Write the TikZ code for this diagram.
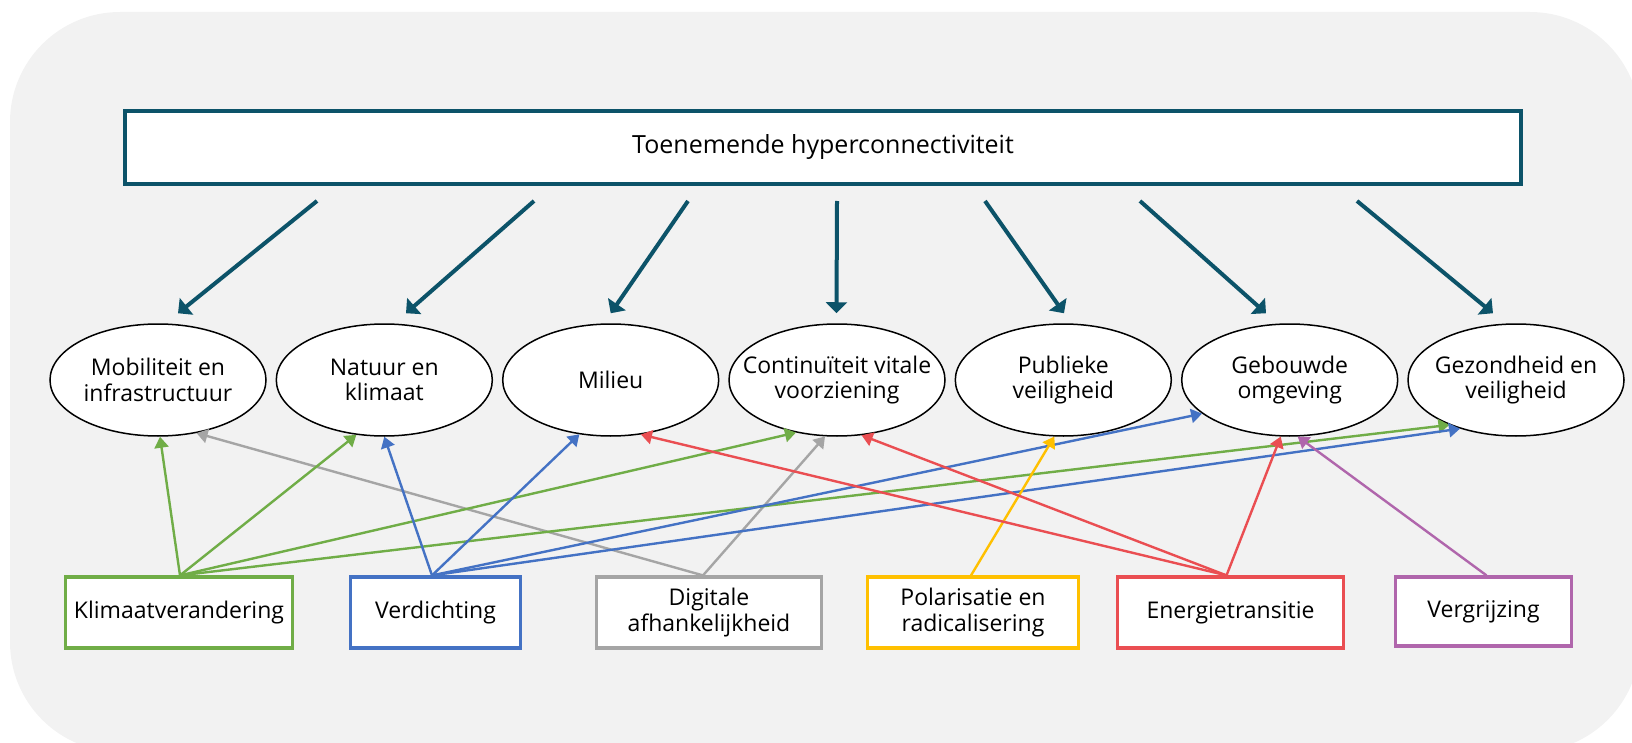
\documentclass[tikz,border=0pt]{standalone}
\usepackage{fontspec}
\setmainfont{Open Sans}
\usetikzlibrary{arrows.meta,shapes.geometric}
\definecolor{bgc}{HTML}{F2F2F2}
\definecolor{tealc}{RGB}{12,83,105}
\definecolor{greenc}{HTML}{70AD47}
\definecolor{bluec}{HTML}{4472C4}
\definecolor{grayc}{HTML}{A5A5A5}
\definecolor{yellowc}{HTML}{FFC000}
\definecolor{redc}{RGB}{234,78,82}
\definecolor{purplec}{RGB}{176,102,172}
\begin{document}
\begin{tikzpicture}[x=1pt,y=-1pt,
  txt/.style={font=\fontsize{23}{25.7}\selectfont, align=center, text=black},
  titlebox/.style={draw=tealc, line width=4pt, fill=white, rectangle, inner sep=0pt,
    minimum width=1396pt, minimum height=73pt, font=\fontsize{25}{28}\selectfont, text=black},
  ell/.style={draw=black, line width=1.5pt, fill=white, ellipse, inner sep=0pt,
    minimum width=216pt, minimum height=112pt},
  lbl/.style={txt, inner sep=0pt},
  cbox/.style={draw=#1, line width=3.2pt, fill=white, rectangle, inner sep=0pt,
    minimum height=71pt, txt},
  tarrow/.style={draw=tealc, line width=4pt, -{Triangle[length=11pt,width=21pt]}},
  carrow/.style={draw=#1, line width=2.4pt, -{Triangle[length=11pt,width=14pt]}}
]
\useasboundingbox (0,0) rectangle (1632,743);
\clip (0,0) rectangle (1632,743);
\fill[bgc, rounded corners=110pt] (10,12) rectangle (1640,752);

% title
\node[titlebox] (title) at (823,147.5) {Toenemende hyperconnectiviteit};

% ellipses
\node[ell, label={[lbl]center:{Mobiliteit en\\infrastructuur}}] (e1) at (158,380) {};
\node[ell, label={[lbl]center:{Natuur en\\klimaat}}] (e2) at (384.3,380) {};
\node[ell, label={[lbl]center:{Milieu}}] (e3) at (610.7,380) {};
\node[ell, label={[lbl]center:{Continuïteit vitale\\voorziening}}] (e4) at (837,380) {};
\node[ell, label={[lbl]center:{Publieke\\veiligheid}}] (e5) at (1063.3,380) {};
\node[ell, label={[lbl]center:{Gebouwde\\omgeving}}] (e6) at (1289.7,380) {};
\node[ell, label={[lbl]center:{Gezondheid en\\veiligheid}}] (e7) at (1516,380) {};

% bottom boxes
\node[cbox=greenc, minimum width=227pt] (k) at (179,612.5) {Klimaatverandering};
\node[cbox=bluec, minimum width=170pt] (v) at (435.5,612.5) {Verdichting};
\node[cbox=grayc, minimum width=225pt] (d) at (709,612.5) {Digitale\\afhankelijkheid};
\node[cbox=yellowc, minimum width=211pt] (p) at (973,612.5) {Polarisatie en\\radicalisering};
\node[cbox=redc, minimum width=226pt] (en) at (1230.5,612.5) {Energietransitie};
\node[cbox=purplec, minimum width=176pt, minimum height=69pt] (vg) at (1483.5,611.5) {Vergrijzing};

% teal arrows
\draw[tarrow] ([xshift=-506pt,yshift=-15pt]title.south) -- ([xshift=20pt,yshift=10pt]e1.north);
\draw[tarrow] ([xshift=-289pt,yshift=-15pt]title.south) -- ([xshift=21.7pt,yshift=10pt]e2.north);
\draw[tarrow] ([xshift=-135pt,yshift=-15pt]title.south) -- ([xshift=0pt,yshift=10pt]e3.north);
\draw[tarrow] ([xshift=14pt,yshift=-15pt]title.south) -- ([xshift=-0.5pt,yshift=10pt]e4.north);
\draw[tarrow] ([xshift=162pt,yshift=-15pt]title.south) -- ([xshift=0.7pt,yshift=10pt]e5.north);
\draw[tarrow] ([xshift=317pt,yshift=-15pt]title.south) -- ([xshift=-23.7pt,yshift=10pt]e6.north);
\draw[tarrow] ([xshift=534pt,yshift=-15pt]title.south) -- ([xshift=-23pt,yshift=10pt]e7.north);

% gray
\draw[carrow=grayc] ([xshift=-6pt]d.north) -- (e1.306);
\draw[carrow=grayc] ([xshift=-6pt]d.north) -- (e4.258);
% green
\draw[carrow=greenc] ([xshift=1pt]k.north) -- (e1.272);
\draw[carrow=greenc] ([xshift=1pt]k.north) -- (e2.243);
\draw[carrow=greenc] ([xshift=1pt]k.north) -- (e4.232);
\draw[carrow=greenc] ([xshift=1pt]k.north) -- (e7.214);
% blue
\draw[carrow=bluec] ([xshift=-3.5pt]v.north) -- (e2.270);
\draw[carrow=bluec] ([xshift=-3.5pt]v.north) -- (e3.240);
\draw[carrow=bluec] ([xshift=-3.5pt]v.north) -- (e6.201);
\draw[carrow=bluec] ([xshift=-3.5pt]v.north) -- (e7.221);
% yellow
\draw[carrow=yellowc] ([xshift=-2pt]p.north) -- (e5.261.5);
% red
\draw[carrow=redc] ([xshift=-4pt]en.north) -- (e3.299);
\draw[carrow=redc] ([xshift=-4pt]en.north) -- (e4.294);
\draw[carrow=redc] ([xshift=-4pt]en.north) -- (e6.261.5);
% purple
\draw[carrow=purplec] ([xshift=3pt]vg.north) -- (e6.278.5);
\end{tikzpicture}
\end{document}
